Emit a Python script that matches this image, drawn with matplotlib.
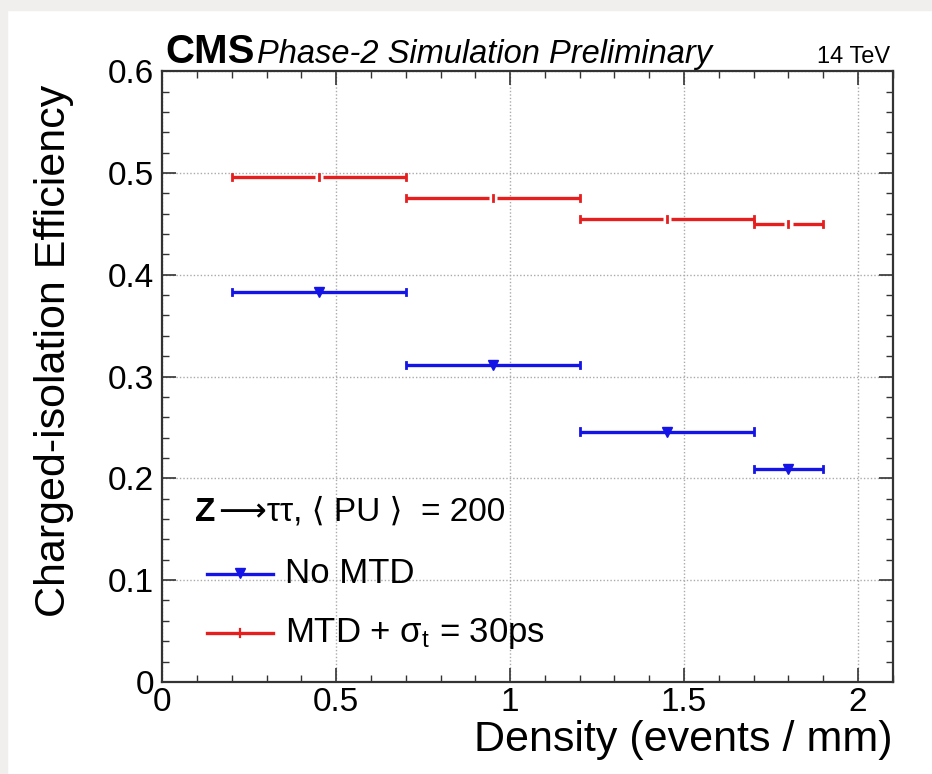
import matplotlib
matplotlib.use("Agg")
import matplotlib.pyplot as plt
from matplotlib.ticker import MultipleLocator
from matplotlib.patches import Rectangle

plt.rcParams['font.family'] = ['Liberation Sans', 'DejaVu Sans']
plt.rcParams['mathtext.fontset'] = 'custom'
plt.rcParams['mathtext.rm'] = 'Liberation Sans'
plt.rcParams['mathtext.it'] = 'Liberation Sans:italic'

# bins in density (events / mm)
bin_lo = [0.2, 0.7, 1.2, 1.7]
bin_hi = [0.7, 1.2, 1.7, 1.9]
bin_x = [0.45, 0.95, 1.45, 1.8]
eff_nomtd = [0.383, 0.311, 0.246, 0.209]
eff_mtd = [0.496, 0.475, 0.455, 0.450]

blue = '#1414e6'
red = '#e61e1e'

fig = plt.figure(figsize=(9.32, 7.74), dpi=100)
fig.patch.set_facecolor('white')
# light grey screenshot border
fig.patches.append(Rectangle((0, 0.987), 1, 0.013, transform=fig.transFigure,
                             color='#f0efed', zorder=0))
fig.patches.append(Rectangle((0, 0), 0.007, 1, transform=fig.transFigure,
                             color='#f0efed', zorder=0))
ax = fig.add_axes([0.174, 0.119, 0.784, 0.789])

ax.set_xlim(0, 2.1)
ax.set_ylim(0, 0.6)
ax.grid(True, which='major', color='#aaaaaa', linestyle=(0, (1, 1.5)), linewidth=1.0)
ax.set_axisbelow(True)

gap = 0.012
for lo, hi, xc, y in zip(bin_lo, bin_hi, bin_x, eff_mtd):
    ax.plot([lo, xc - gap], [y, y], color=red, lw=2.4, solid_capstyle='butt')
    ax.plot([xc + gap, hi], [y, y], color=red, lw=2.4, solid_capstyle='butt')
    ax.plot([lo, lo], [y - 0.003, y + 0.003], color=red, lw=2.0)
    ax.plot([hi, hi], [y - 0.003, y + 0.003], color=red, lw=2.0)
    ax.plot([xc, xc], [y - 0.003, y + 0.003], color=red, lw=2.0)

for lo, hi, xc, y in zip(bin_lo, bin_hi, bin_x, eff_nomtd):
    ax.plot([lo, hi], [y, y], color=blue, lw=2.4, solid_capstyle='butt')
    ax.plot([lo, lo], [y - 0.003, y + 0.003], color=blue, lw=2.0)
    ax.plot([hi, hi], [y - 0.003, y + 0.003], color=blue, lw=2.0)
    ax.plot([xc], [y], marker='v', color=blue, markersize=6.5)

ax.xaxis.set_major_locator(MultipleLocator(0.5))
ax.xaxis.set_minor_locator(MultipleLocator(0.1))
ax.yaxis.set_major_locator(MultipleLocator(0.1))
ax.yaxis.set_minor_locator(MultipleLocator(0.02))
ax.set_xticks([0, 0.5, 1, 1.5, 2])
ax.set_xticklabels(['0', '0.5', '1', '1.5', '2'])
ax.set_yticks([0, 0.1, 0.2, 0.3, 0.4, 0.5, 0.6])
ax.set_yticklabels(['0', '0.1', '0.2', '0.3', '0.4', '0.5', '0.6'])
ax.tick_params(which='both', direction='in', top=True, right=True,
               labelsize=24, color='#333333')
ax.tick_params(which='major', length=10, width=1.2, pad=6)
ax.tick_params(axis='x', which='major', pad=4)
ax.tick_params(which='minor', length=5, width=1.0)
for s in ax.spines.values():
    s.set_linewidth(1.6)
    s.set_color('#333333')

ax.set_xlabel('Density (events / mm)', fontsize=31, loc='right', labelpad=1)
ax.set_ylabel('Charged-isolation Efficiency', fontsize=31, loc='top')
ax.yaxis.set_label_coords(-0.12, 0.978)

# header
fig.text(0.177, 0.918, 'CMS', fontsize=29, fontweight='bold', ha='left', va='baseline')
fig.text(0.276, 0.918, 'Phase-2 Simulation Preliminary', fontsize=23.5,
         style='italic', ha='left', va='baseline')
fig.text(0.955, 0.918, '14 TeV', fontsize=17, ha='right', va='baseline')

# legend (drawn by hand to mimic ROOT layout)
ax.text(0.045, 0.278, 'Z', fontsize=24, fontweight='bold', transform=ax.transAxes,
        ha='left', va='center')
ax.text(0.078, 0.278, '\u27f6\u03c4\u03c4, \u27e8 PU \u27e9  = 200', fontsize=24,
        transform=ax.transAxes, ha='left', va='center')
ax.plot([0.061, 0.151], [0.177, 0.177], color=blue, lw=2.4, transform=ax.transAxes)
ax.plot([0.106], [0.179], marker='v', color=blue, markersize=6.5, transform=ax.transAxes)
ax.text(0.168, 0.177, 'No MTD', fontsize=25, transform=ax.transAxes,
        ha='left', va='center')
ax.plot([0.061, 0.151], [0.080, 0.080], color=red, lw=2.4, transform=ax.transAxes)
ax.plot([0.106, 0.106], [0.074, 0.086], color=red, lw=1.6, transform=ax.transAxes)
ax.text(0.168, 0.080, r'MTD + $\mathrm{\sigma_{t}}$ = 30ps', fontsize=25,
        transform=ax.transAxes, ha='left', va='center')

fig.savefig('out.png', dpi=100)
